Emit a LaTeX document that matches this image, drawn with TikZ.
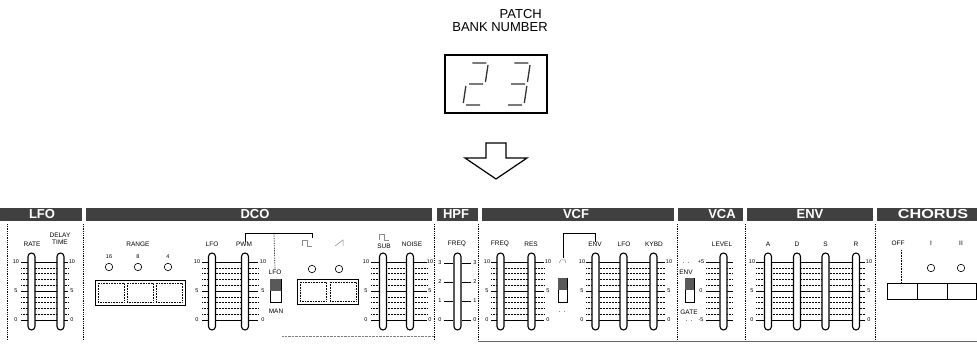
\documentclass[tikz,border=0pt]{standalone}
\usepackage{fontspec}
\setmainfont{Liberation Sans}
\usetikzlibrary{positioning}

\tikzset{
  hdr/.style={fill=black!75},
  hdrtxt/.style={text=white, font=\bfseries\fontsize{13}{13}\selectfont, inner sep=0pt},
  lbl/.style={font=\fontsize{6.5}{7}\selectfont, inner sep=0pt},
  num/.style={font=\fontsize{5.5}{6}\selectfont, inner sep=0pt},
  slotbox/.style={draw, line width=1.1pt, fill=white, rounded corners=3.5pt},
  divider/.style={densely dotted, line width=0.8pt},
  minor/.style={densely dotted, line width=0.5pt},
  major/.style={line width=0.6pt},
  led/.style={draw, circle, minimum size=7.5pt, inner sep=0pt, line width=0.6pt},
  btn/.style={draw, line width=0.6pt},
  lever/.style={fill=black!65},
  faint/.style={black!45, line width=0.5pt},
  seg/.style={line width=1.3pt, black!80},
}

% one fader slot, centred on x
\newcommand\fader[1]{\draw[slotbox] ({#1-3.5},253) rectangle ({#1+3.5},330);}
% tick lines 0..10 between two x
\newcommand\tickrow[2]{%
  \foreach \k in {1,2,3,4,6,7,8,9} \draw[minor] (#1,{320-5.8*\k}) -- (#2,{320-5.8*\k});
  \foreach \k in {0,5,10} \draw[major] (#1,{320-5.8*\k}) -- (#2,{320-5.8*\k});}
% 10 / 5 / 0 next to a row
\newcommand\scalenums[1]{%
  \node[num] at (#1,262) {10};
  \node[num] at (#1,291) {5};
  \node[num] at (#1,320) {0};}

\begin{document}
\begin{tikzpicture}[x=1pt,y=-1pt]
    \useasboundingbox (0,0) rectangle (977,344);

    % Patch number display
    \node[font=\fontsize{13}{13}\selectfont, inner sep=0pt, anchor=base east] (patch) at (542,19) {PATCH};
    \node[font=\fontsize{13}{13}\selectfont, inner sep=0pt, anchor=base] (bank) at (500,32) {BANK NUMBER};
    \draw[line width=1.2pt] (445,55) rectangle (547,113);
    \begin{scope}[shift={(463,105)}, x=1pt, y=1pt, xslant=0.15]
        \draw[seg] (3,42) -- (17,42) (19,40) -- (19,23) (3,21) -- (17,21) (0,19) -- (0,2) (3,0) -- (17,0);
    \end{scope}
    \begin{scope}[shift={(505,105)}, x=1pt, y=1pt, xslant=0.15]
        \draw[seg] (3,42) -- (17,42) (19,40) -- (19,23) (3,21) -- (17,21) (19,19) -- (19,2) (3,0) -- (17,0);
    \end{scope}

    % Arrow down
    \draw[line width=1.2pt, line join=miter] (486,143) -- (506,143) -- (506,158) -- (527,158) -- (496,179)
        -- (465,158) -- (486,158) -- cycle;

    % Header bars
    \foreach \a/\b/\t/\c in {0/82/LFO/42, 86/432/DCO/255, 437/478/HPF/456, 482/674/VCF/576,
                             678/743/VCA/722, 747/873/ENV/810} {
        \fill[hdr] (\a,208) rectangle (\b,221);
        \node[hdrtxt] at (\c,214.5) {\t};
    }
    \fill[hdr] (877,208) rectangle (977,221);
    \node[hdrtxt, xscale=1.25] (chorus) at (933,214.5) {CHORUS};

    % Section borders
    \foreach \x in {7,83,434,478,677,745,875}
        \draw[divider] (\x,224) -- (\x,340);
    \draw[black!50, densely dotted] (282,336) -- (434,336);
    \draw[black!60, line width=0.5pt] (478,341) -- (977,341);

    % LFO
    \tickrow{21}{68}
    \fader{31.5} \fader{60.5}
    \scalenums{16} \scalenums{72}
    \node[lbl] (rate) at (32,244) {RATE};
    \node[lbl, align=center] (delay) at (60,239) {DELAY\\TIME};

    % DCO range
    \node[lbl] (range) at (138,244) {RANGE};
    \foreach \x/\t in {109/16, 138/8, 168/4} {
        \node[num] at (\x,257) {\t};
        \node[led] at (\x,267) {};
    }
    \draw[btn] (95,280) rectangle (185,305);
    \foreach \x in {98,127,156} \draw[btn, densely dotted] (\x,283) rectangle ++(26,19);

    % DCO LFO and PWM
    \tickrow{202}{258}
    \fader{212} \fader{245}
    \scalenums{197} \scalenums{263}
    \node[lbl] (lfo) at (212,244) {LFO};
    \node[lbl] (pwm) at (244,244) {PWM};
    \coordinate (brL) at (245,233);
    \coordinate (brR) at (312,233);
    \coordinate (brM) at (274,233);
    \draw[line width=0.7pt] (pwm.north -| brL) -- (brL) -- (brR) -- ++(0,5);

    % LFO / MAN switch
    \node[lbl] (swlfo) at (275,272) {LFO};
    \node[lbl] (swman) at (276,311) {MAN};
    \draw[densely dotted, line width=0.7pt] (brM) -- (swlfo.north);
    \draw[btn] (270,279) rectangle (281,302);
    \fill[lever] (270,279) rectangle (281,291);

    % Waveform buttons
    \draw[faint] (302,246) -- (302,240) -- (307,240) -- (307,246) -- (312,246);
    \draw[faint] (335,246) -- (343,240) -- (343,246);
    \node[led] (pulse) at (312,269) {};
    \node[led] (saw) at (339,269) {};
    \draw[btn] (297,279) rectangle (358,304);
    \foreach \x in {300,330} \draw[btn, densely dotted] (\x,282) rectangle ++(26,19);

    % SUB and NOISE
    \tickrow{371}{427}
    \fader{383} \fader{410}
    \scalenums{366} \scalenums{430}
    \draw[faint] (379,240) -- (379,234) -- (384,234) -- (384,240) -- (389,240);
    \node[lbl] (sub) at (384,246) {SUB};
    \node[lbl] (noise) at (412,244) {NOISE};

    % HPF
    \foreach \k/\t in {0/0, 1/1, 2/2, 3/3} {
        \draw[major] (444,{320-19*\k}) -- (453,{320-19*\k}) (462,{320-19*\k}) -- (471,{320-19*\k});
        \node[num] at (440,{320-19*\k}) {\t};
        \node[num] at (475,{320-19*\k}) {\t};
    }
    \fader{457.5}
    \node[lbl] (hfreq) at (457,244) {FREQ};

    % VCF
    \tickrow{491}{544}
    \fader{500.5} \fader{531.5}
    \scalenums{487} \scalenums{548}
    \node[lbl] (vfreq) at (500,244) {FREQ};
    \node[lbl] (res) at (531,244) {RES};
    \tickrow{586}{665}
    \fader{595.5} \fader{623.5} \fader{653.5}
    \scalenums{582} \scalenums{669}
    \node[lbl] (venv) at (595,244) {ENV};
    \node[lbl] (vlfo) at (624,244) {LFO};
    \node[lbl] (kybd) at (654,244) {KYBD};
    \coordinate (polL) at (563,258);
    \draw[line width=0.7pt] (polL) -- (563,233) -- (595,233) -- (venv.north);
    \draw[faint] (559,263) -- (561,260) -- (565,260) -- (566,263);
    \draw[btn] (558,278) rectangle (567,302);
    \fill[lever] (558,278) rectangle (567,290);
    \draw[faint] (559,311) -- (560,311) (564,311) -- (565,311);

    % VCA
    \draw[faint] (683,262) -- (684,262) (688,262) -- (689,262);
    \node[lbl] (aenv) at (686,272) {ENV};
    \draw[btn] (685,278) rectangle (694,302);
    \fill[lever] (685,278) rectangle (694,290);
    \node[lbl] (gate) at (689,312) {GATE};
    \draw[faint] (686,320) -- (687,320) (691,320) -- (692,320);
    \tickrow{706}{733}
    \fader{723.5}
    \node[num] at (701,262) {+5};
    \node[num] at (701,291) {0};
    \node[num] at (701,320) {-5};
    \node[lbl] (level) at (722,244) {LEVEL};

    % ENV
    \tickrow{756}{865}
    \fader{768} \fader{797} \fader{825.5} \fader{856}
    \scalenums{752} \scalenums{869}
    \foreach \x/\t in {768/A, 797/D, 825.5/S, 856/R}
        \node[lbl] at (\x,244) {\t};

    % CHORUS
    \node[lbl] (off) at (898,243) {OFF};
    \node[lbl] (one) at (931,243) {I};
    \node[lbl] (two) at (961,243) {II};
    \draw[densely dotted, line width=0.6pt] (901,250) -- (901,283);
    \node[led] at (931,268) {};
    \node[led] at (961,268) {};
    \draw[btn] (887,283) rectangle (976.5,299);
    \draw[btn] (917,283) -- (917,299) (947,283) -- (947,299);
\end{tikzpicture}
\end{document}
